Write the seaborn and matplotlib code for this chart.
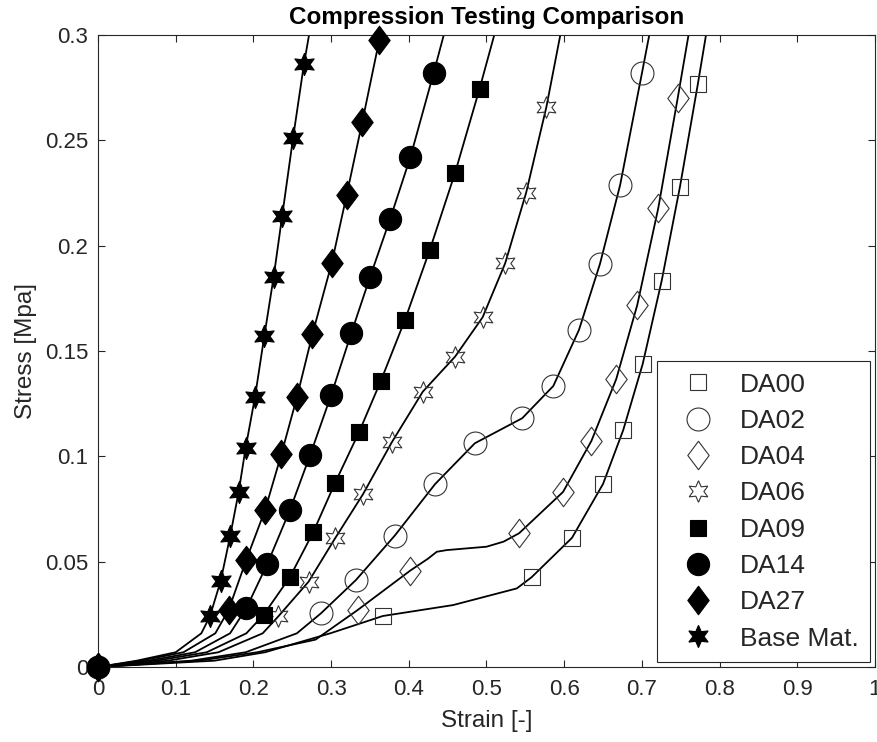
import numpy as np
import pandas as pd
import matplotlib
matplotlib.use("Agg")
import matplotlib.pyplot as plt
from matplotlib.path import Path
from matplotlib.lines import Line2D
import seaborn as sns

# ---------------- data (strain [-], stress [MPa]) ----------------
labels = ["DA00", "DA02", "DA04", "DA06", "DA09", "DA14", "DA27", "Base Mat."]

# marker points
da00_x = [0, 0.3665, 0.558, 0.610, 0.650, 0.676, 0.701, 0.7255, 0.749, 0.772]
da00_y = [0, 0.0242, 0.0426, 0.0613, 0.0869, 0.1125, 0.1438, 0.1834, 0.228, 0.2767]
da02_x = [0, 0.287, 0.332, 0.382, 0.434, 0.485, 0.546, 0.586, 0.619, 0.646, 0.672, 0.700]
da02_y = [0, 0.0255, 0.0413, 0.0624, 0.0869, 0.1062, 0.1181, 0.1334, 0.160, 0.1913, 0.2288, 0.2818]
da04_x = [0, 0.334, 0.402, 0.542, 0.5985, 0.635, 0.667, 0.694, 0.721, 0.746]
da04_y = [0, 0.027, 0.0458, 0.0635, 0.0831, 0.1073, 0.1367, 0.1718, 0.2177, 0.2699]
da06_x = [0, 0.232, 0.271, 0.305, 0.341, 0.378, 0.418, 0.4595, 0.495, 0.524, 0.551, 0.577]
da06_y = [0, 0.024, 0.0405, 0.061, 0.082, 0.1066, 0.1307, 0.1473, 0.166, 0.1916, 0.2251, 0.2657]
da09_x = [0, 0.213, 0.247, 0.277, 0.305, 0.336, 0.364, 0.395, 0.427, 0.4595, 0.491]
da09_y = [0, 0.0247, 0.0427, 0.064, 0.0873, 0.1115, 0.1358, 0.1647, 0.198, 0.2345, 0.2744]
da14_x = [0, 0.191, 0.218, 0.247, 0.273, 0.300, 0.326, 0.350, 0.376, 0.402, 0.432]
da14_y = [0, 0.028, 0.049, 0.0745, 0.1006, 0.129, 0.1585, 0.185, 0.2127, 0.242, 0.282]
da27_x = [0, 0.168, 0.191, 0.215, 0.236, 0.256, 0.276, 0.301, 0.320, 0.340, 0.362]
da27_y = [0, 0.027, 0.051, 0.0745, 0.101, 0.128, 0.158, 0.192, 0.224, 0.2585, 0.2976]
base_x = [0, 0.144, 0.158, 0.170, 0.181, 0.190, 0.202, 0.214, 0.226, 0.237, 0.251, 0.265]
base_y = [0, 0.024, 0.041, 0.062, 0.083, 0.104, 0.128, 0.157, 0.185, 0.214, 0.251, 0.286]

# additional curve points (between / beyond markers)
da00_cx = [0.15, 0.215, 0.299, 0.457, 0.539, 0.7825]
da00_cy = [0.003, 0.007, 0.016, 0.0294, 0.0373, 0.30]
da02_cx = [0.12, 0.19, 0.256, 0.7095]
da02_cy = [0.003, 0.007, 0.016, 0.30]
da04_cx = [0.13, 0.205, 0.28, 0.425, 0.436, 0.449, 0.500, 0.522, 0.760]
da04_cy = [0.003, 0.007, 0.013, 0.0515, 0.0547, 0.0555, 0.0571, 0.0595, 0.30]
da06_cx = [0.09, 0.155, 0.212, 0.595]
da06_cy = [0.003, 0.007, 0.016, 0.30]
da09_cx = [0.075, 0.14, 0.191, 0.510]
da09_cy = [0.003, 0.007, 0.016, 0.30]
da14_cx = [0.065, 0.125, 0.170, 0.445]
da14_cy = [0.003, 0.007, 0.016, 0.30]
da27_cx = [0.055, 0.11, 0.151, 0.364]
da27_cy = [0.003, 0.007, 0.016, 0.30]
base_cx = [0.05, 0.10, 0.133, 0.2716]
base_cy = [0.003, 0.007, 0.016, 0.30]

x_ticks = [0, 0.1, 0.2, 0.3, 0.4, 0.5, 0.6, 0.7, 0.8, 0.9, 1]
y_ticks = [0, 0.05, 0.1, 0.15, 0.2, 0.25, 0.3]

# ---------------- styles ----------------
thin_diamond = Path([(0, 1), (0.75, 0), (0, -1), (-0.75, 0), (0, 1)],
                    [Path.MOVETO, Path.LINETO, Path.LINETO, Path.LINETO, Path.CLOSEPOLY])
hexagram = (6, 1, 0)
EDGE = "#333333"

series = [
    # label, marker xy, curve xy, marker, size(pt), filled
    ("DA00", da00_x, da00_y, da00_cx, da00_cy, "s", 12.0, False),
    ("DA02", da02_x, da02_y, da02_cx, da02_cy, "o", 16.5, False),
    ("DA04", da04_x, da04_y, da04_cx, da04_cy, thin_diamond, 20.5, False),
    ("DA06", da06_x, da06_y, da06_cx, da06_cy, hexagram, 15.5, False),
    ("DA09", da09_x, da09_y, da09_cx, da09_cy, "s", 12.0, True),
    ("DA14", da14_x, da14_y, da14_cx, da14_cy, "o", 16.0, True),
    ("DA27", da27_x, da27_y, da27_cx, da27_cy, thin_diamond, 20.5, True),
    ("Base Mat.", base_x, base_y, base_cx, base_cy, hexagram, 16.0, True),
]

sns.set_theme(style="ticks")
plt.rcParams['font.family'] = ['Liberation Sans', 'DejaVu Sans']

W, H = 878, 742
fig = plt.figure(figsize=(W / 100, H / 100), dpi=100)
ax = fig.add_axes([98 / W, 1 - 667 / H, (875 - 98) / W, (667 - 35) / H])

handles = []
for i, (lab, mx, my, cx, cy, mk, ms, filled) in enumerate(series):
    df = pd.DataFrame({"strain": list(mx) + list(cx), "stress": list(my) + list(cy)})
    df = df.sort_values(["strain", "stress"]).reset_index(drop=True)
    sns.lineplot(data=df, x="strain", y="stress", ax=ax, color="black", linewidth=1.3,
                 estimator=None, sort=False, legend=False, zorder=2)
for i, (lab, mx, my, cx, cy, mk, ms, filled) in enumerate(series):
    mdf = pd.DataFrame({"strain": mx, "stress": my})
    if filled:
        sns.scatterplot(data=mdf, x="strain", y="stress", ax=ax, marker=mk, s=ms ** 2,
                        color="black", edgecolor="black", linewidth=0.8,
                        clip_on=False, zorder=4, legend=False)
        h = Line2D([], [], linestyle="none", marker=mk, markersize=ms,
                   markerfacecolor="black", markeredgecolor="black", markeredgewidth=0.8)
    else:
        sns.scatterplot(data=mdf, x="strain", y="stress", ax=ax, marker=mk, s=ms ** 2,
                        color=(0, 0, 0, 0), edgecolor=EDGE, linewidth=0.8,
                        clip_on=False, zorder=3, legend=False)
        h = Line2D([], [], linestyle="none", marker=mk, markersize=ms,
                   markerfacecolor="none", markeredgecolor=EDGE, markeredgewidth=0.8)
    handles.append(h)

ax.set_xlim(0, 1)
ax.set_ylim(0, 0.3)
ax.set_xticks(x_ticks)
ax.set_yticks(y_ticks)
ax.set_xticklabels([f"{v:g}" for v in x_ticks])
ax.set_yticklabels([f"{v:g}" for v in y_ticks])
AX_COL = "#262626"
ax.tick_params(direction="in", top=True, right=True, length=5, width=0.8,
               labelsize=16, colors=AX_COL)
ax.tick_params(axis="x", pad=8.5)
ax.tick_params(axis="y", pad=7)
for sp in ax.spines.values():
    sp.set_visible(True)
    sp.set_color(AX_COL)
    sp.set_linewidth(0.8)

ax.set_xlabel("Strain [-]", fontsize=17.5, color=AX_COL, labelpad=7)
ax.set_ylabel("Stress [Mpa]", fontsize=17.5, color=AX_COL, labelpad=6)
ax.set_title("Compression Testing Comparison", fontsize=17.5, fontweight="bold",
             color="black", pad=8)

leg = ax.legend(handles, labels, loc="lower right", fontsize=19, frameon=True,
                fancybox=False, framealpha=1, edgecolor=AX_COL,
                labelspacing=0.466, handlelength=2.27, handletextpad=0.45,
                borderpad=0.42, borderaxespad=0.2)
leg.get_frame().set_linewidth(0.8)
leg.set_zorder(10)

fig.savefig("out.png", dpi=100)
